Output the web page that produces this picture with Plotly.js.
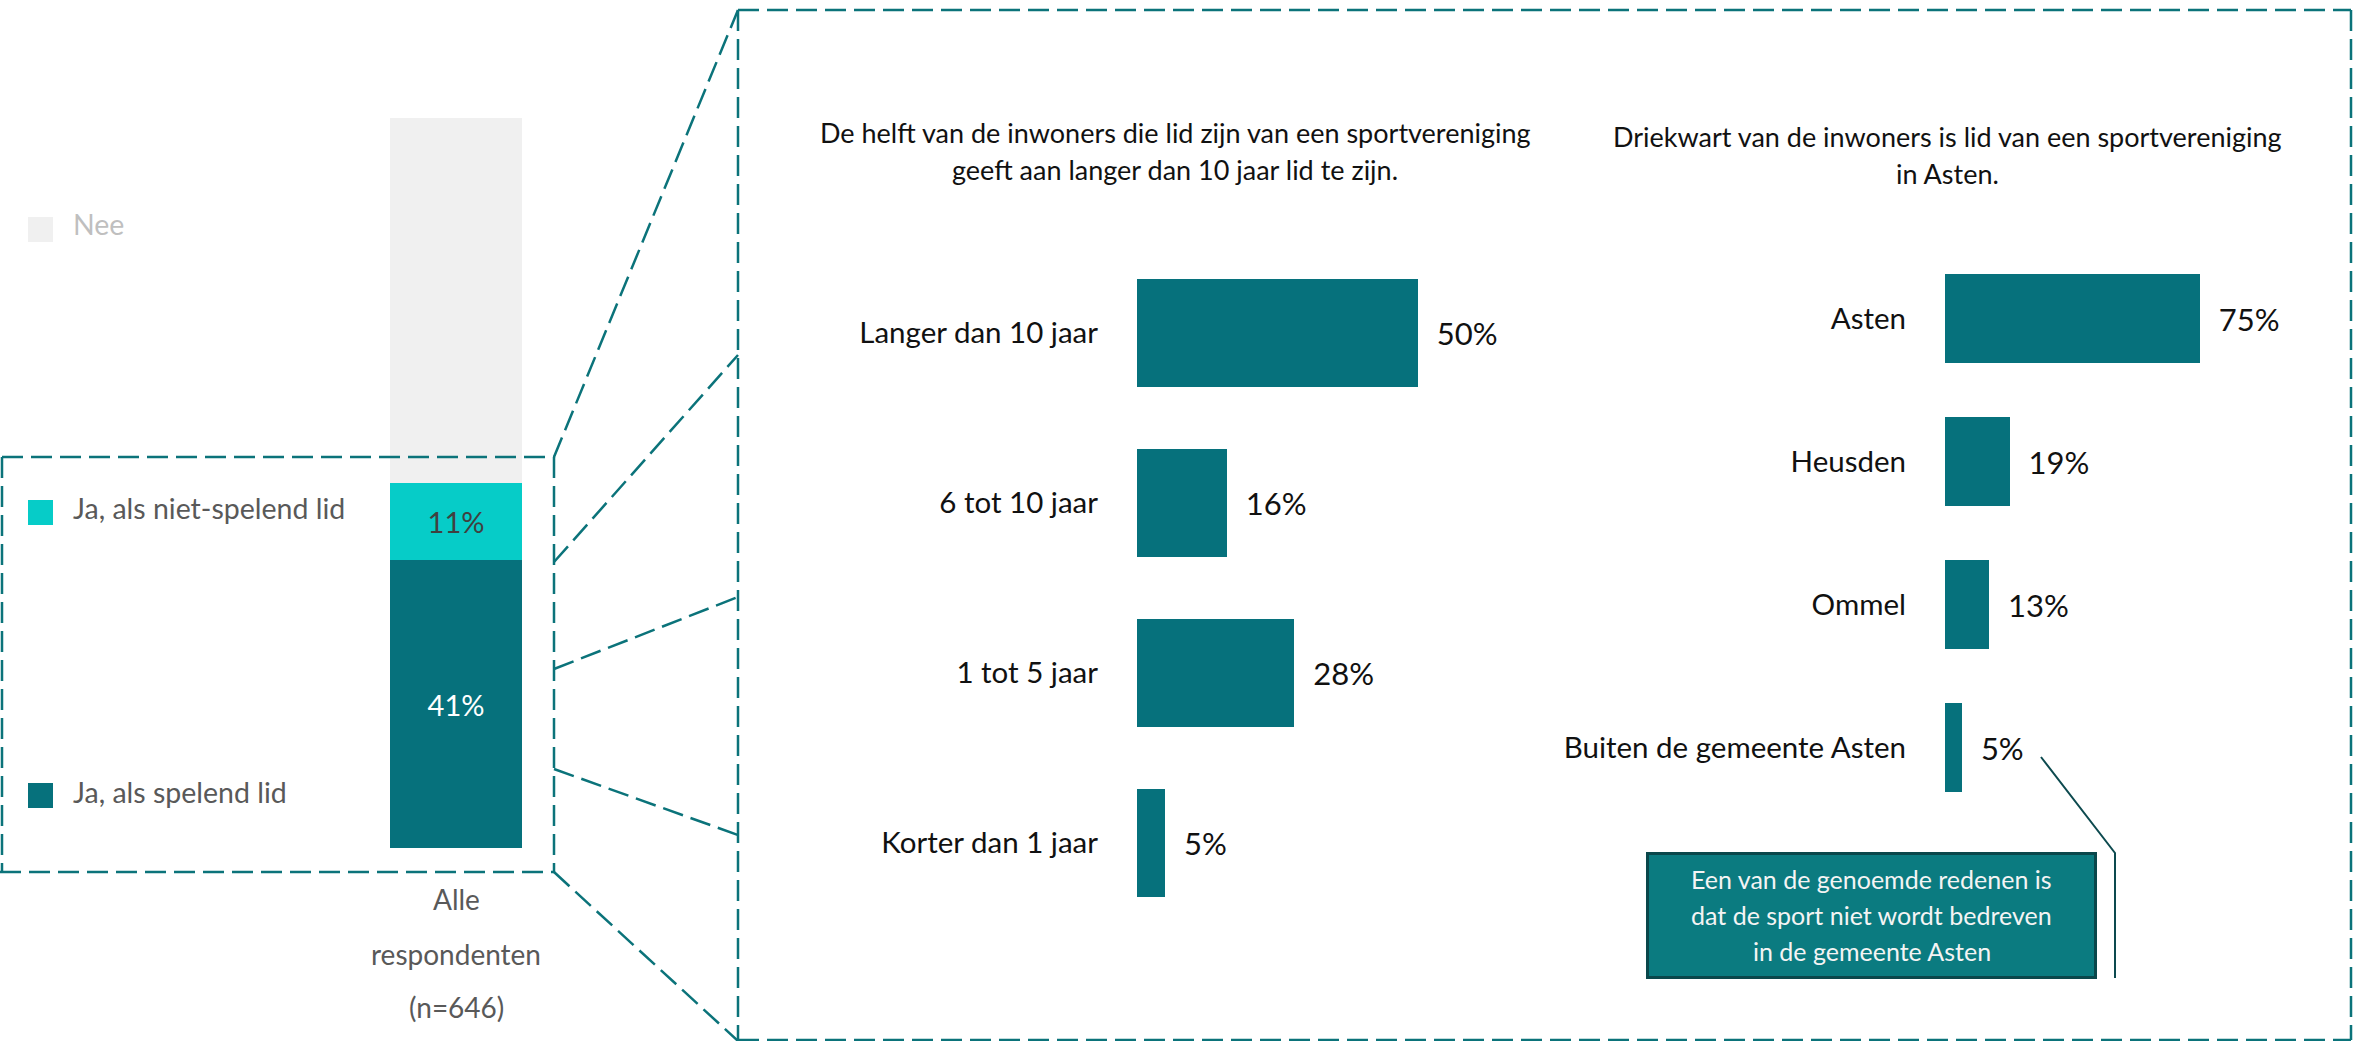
<!DOCTYPE html>
<html>
<head>
<meta charset="utf-8">
<script src="https://cdn.plot.ly/plotly-3.0.1.min.js"></script>
<style>html,body{margin:0;padding:0;background:#fff;overflow:hidden}</style>
</head>
<body>
<div id="chart" style="width:2363px;height:1041px"></div>
<script>
// ---------- data ----------
const overallCategory = ['Alle respondenten (n=646)'];
const overallAxisLines = ['Alle', 'respondenten', '(n=646)'];
const seriesNames = ['Ja, als spelend lid', 'Ja, als niet-spelend lid', 'Nee'];
const spelend = [41];
const nietSpelend = [11];
const nee = [52];

const durationCats = ['Langer dan 10 jaar', '6 tot 10 jaar', '1 tot 5 jaar', 'Korter dan 1 jaar'];
const durationVals = [50, 16, 28, 5];
const durationTitle = ['De helft van de inwoners die lid zijn van een sportvereniging', 'geeft aan langer dan 10 jaar lid te zijn.'];

const locationCats = ['Asten', 'Heusden', 'Ommel', 'Buiten de gemeente Asten'];
const locationVals = [75, 19, 13, 5];
const locationTitle = ['Driekwart van de inwoners is lid van een sportvereniging', 'in Asten.'];

const noteLines = ['Een van de genoemde redenen is', 'dat de sport niet wordt bedreven', 'in de gemeente Asten'];

// ---------- style ----------
const W = 2363, H = 1041;
const X = p => p / W;
const Y = p => 1 - p / H;
const FONT = 'Lato, "Open Sans", sans-serif';
const TEAL = '#06717C';
const CYAN = '#06CCC8';
const GREY = '#F0F0F0';
const DASH = '#0B737A';
const NBSP = '\u00a0\u00a0';

const traces = [
  {type: 'bar', name: seriesNames[0], x: overallCategory, y: spelend, xaxis: 'x', yaxis: 'y',
   marker: {color: TEAL}, width: 1, texttemplate: '%{y}%', textposition: 'inside', insidetextanchor: 'middle',
   textangle: 0, constraintext: 'none', textfont: {family: FONT, size: 29, color: '#ffffff'},
   showlegend: false, hoverinfo: 'skip'},
  {type: 'bar', name: seriesNames[1], x: overallCategory, y: nietSpelend, xaxis: 'x', yaxis: 'y',
   marker: {color: CYAN}, width: 1, texttemplate: '%{y}%', textposition: 'inside', insidetextanchor: 'middle',
   textangle: 0, constraintext: 'none', textfont: {family: FONT, size: 29, color: '#404040'},
   showlegend: false, hoverinfo: 'skip'},
  {type: 'bar', name: seriesNames[2], x: overallCategory, y: nee, xaxis: 'x', yaxis: 'y',
   marker: {color: GREY}, width: 1, textposition: 'none', showlegend: false, hoverinfo: 'skip'},
  {type: 'bar', orientation: 'h', x: durationVals, y: durationCats, xaxis: 'x2', yaxis: 'y2',
   marker: {color: TEAL}, width: 0.63, texttemplate: NBSP + '%{x}%', textposition: 'outside', cliponaxis: false,
   textfont: {family: FONT, size: 31, color: '#111111'}, showlegend: false, hoverinfo: 'skip'},
  {type: 'bar', orientation: 'h', x: locationVals, y: locationCats, xaxis: 'x3', yaxis: 'y3',
   marker: {color: TEAL}, width: 0.622, texttemplate: NBSP + '%{x}%', textposition: 'outside', cliponaxis: false,
   textfont: {family: FONT, size: 31, color: '#111111'}, showlegend: false, hoverinfo: 'skip'}
];

const catAxis = (cats, d0, d1, anchor) => ({
  domain: [Y(d1), Y(d0)], type: 'category', categoryarray: cats, range: [3.5, -0.5],
  showgrid: false, zeroline: false, showline: false, ticks: '', ticklabelstandoff: 38,
  tickfont: {family: FONT, size: 29.5, color: '#111111'}, anchor: anchor, fixedrange: true
});

const shapes = [];
const dline = (x0, y0, x1, y1) => shapes.push({type: 'line', xref: 'paper', yref: 'paper',
  x0: X(x0), y0: Y(y0), x1: X(x1), y1: Y(y1), line: {color: DASH, width: 2.5, dash: '21px,8px'}});
// left zoom box
dline(2, 457, 554, 457); dline(554, 457, 554, 872); dline(0, 872, 554, 872); dline(2, 457, 2, 872);
// connectors
dline(554, 457, 738, 10); dline(554, 562, 738, 355); dline(554, 669, 738, 597);
dline(554, 769, 738, 835); dline(554, 872, 738, 1041);
// big box
dline(738, 10, 2351, 10); dline(2351, 10, 2351, 1040); dline(738, 10, 738, 1041); dline(738, 1040, 2351, 1040);
// legend squares
const legendColors = [GREY, CYAN, TEAL];
const legendSquareTop = [217, 500, 783];
legendColors.forEach((c, i) => shapes.push({type: 'rect', xref: 'paper', yref: 'paper',
  x0: X(28), x1: X(53), y0: Y(legendSquareTop[i] + 25), y1: Y(legendSquareTop[i]), fillcolor: c, line: {width: 0}}));
// note box
shapes.push({type: 'rect', xref: 'paper', yref: 'paper', x0: X(1647.5), x1: X(2095.5), y0: Y(977.5), y1: Y(853.5),
  fillcolor: '#0B7B80', line: {color: '#0A474B', width: 3}});
// callout line
shapes.push({type: 'path', xref: 'paper', yref: 'paper',
  path: `M ${X(2041)},${Y(757)} L ${X(2115)},${Y(853)} L ${X(2115)},${Y(978)}`,
  line: {color: '#0D4A4F', width: 2}});

const annotations = [];
// legend labels
const legendLabels = [seriesNames[2], seriesNames[1], seriesNames[0]];
const legendTextColors = ['#BFBFBF', '#595959', '#595959'];
const legendTextY = [224, 508, 792];
legendLabels.forEach((t, i) => annotations.push({xref: 'paper', yref: 'paper', x: X(71), y: Y(legendTextY[i]),
  xanchor: 'left', yanchor: 'middle', text: t, showarrow: false,
  font: {family: FONT, size: 28.5, color: legendTextColors[i]}}));
// category label of the stacked bar
const axisLineY = [899, 954, 1007];
overallAxisLines.forEach((t, i) => annotations.push({xref: 'paper', yref: 'paper', x: X(456), y: Y(axisLineY[i]),
  xanchor: 'center', yanchor: 'middle', text: t, showarrow: false,
  font: {family: FONT, size: 28, color: '#595959'}}));
// titles
const titleFont = {family: FONT, size: 27, color: '#111111'};
[133, 169].forEach((y, i) => annotations.push({xref: 'paper', yref: 'paper', x: X(1175), y: Y(y),
  xanchor: 'center', yanchor: 'middle', text: durationTitle[i], showarrow: false, font: titleFont}));
[137, 173].forEach((y, i) => annotations.push({xref: 'paper', yref: 'paper', x: X(1948), y: Y(y),
  xanchor: 'center', yanchor: 'middle', text: locationTitle[i], showarrow: false, font: titleFont}));
// note text
const noteY = [879, 915, 951];
noteLines.forEach((t, i) => annotations.push({xref: 'paper', yref: 'paper', x: X(1871.5), y: Y(noteY[i]),
  xanchor: 'center', yanchor: 'middle', text: t, showarrow: false,
  font: {family: FONT, size: 25, color: '#F4F4F4'}}));

const layout = {
  width: W, height: H, autosize: false,
  margin: {l: 0, r: 0, t: 0, b: 0, pad: 0},
  paper_bgcolor: '#ffffff', plot_bgcolor: 'rgba(0,0,0,0)',
  barmode: 'stack', showlegend: false,
  font: {family: FONT},
  xaxis: {domain: [X(390), X(522)], range: [-0.5, 0.5], visible: false, fixedrange: true, anchor: 'y'},
  yaxis: {domain: [Y(848), Y(118)], range: [0, 104], visible: false, fixedrange: true, anchor: 'x'},
  xaxis2: {domain: [X(1137), X(1137 + 5.62 * 60)], range: [0, 60], visible: false, fixedrange: true, anchor: 'y2'},
  yaxis2: catAxis(durationCats, 248, 928, 'x2'),
  xaxis3: {domain: [X(1945), X(1945 + 3.4 * 100)], range: [0, 100], visible: false, fixedrange: true, anchor: 'y3'},
  yaxis3: catAxis(locationCats, 247, 819, 'x3'),
  shapes: shapes,
  annotations: annotations
};

Plotly.newPlot('chart', traces, layout, {displayModeBar: false, staticPlot: true});
</script>
</body>
</html>
